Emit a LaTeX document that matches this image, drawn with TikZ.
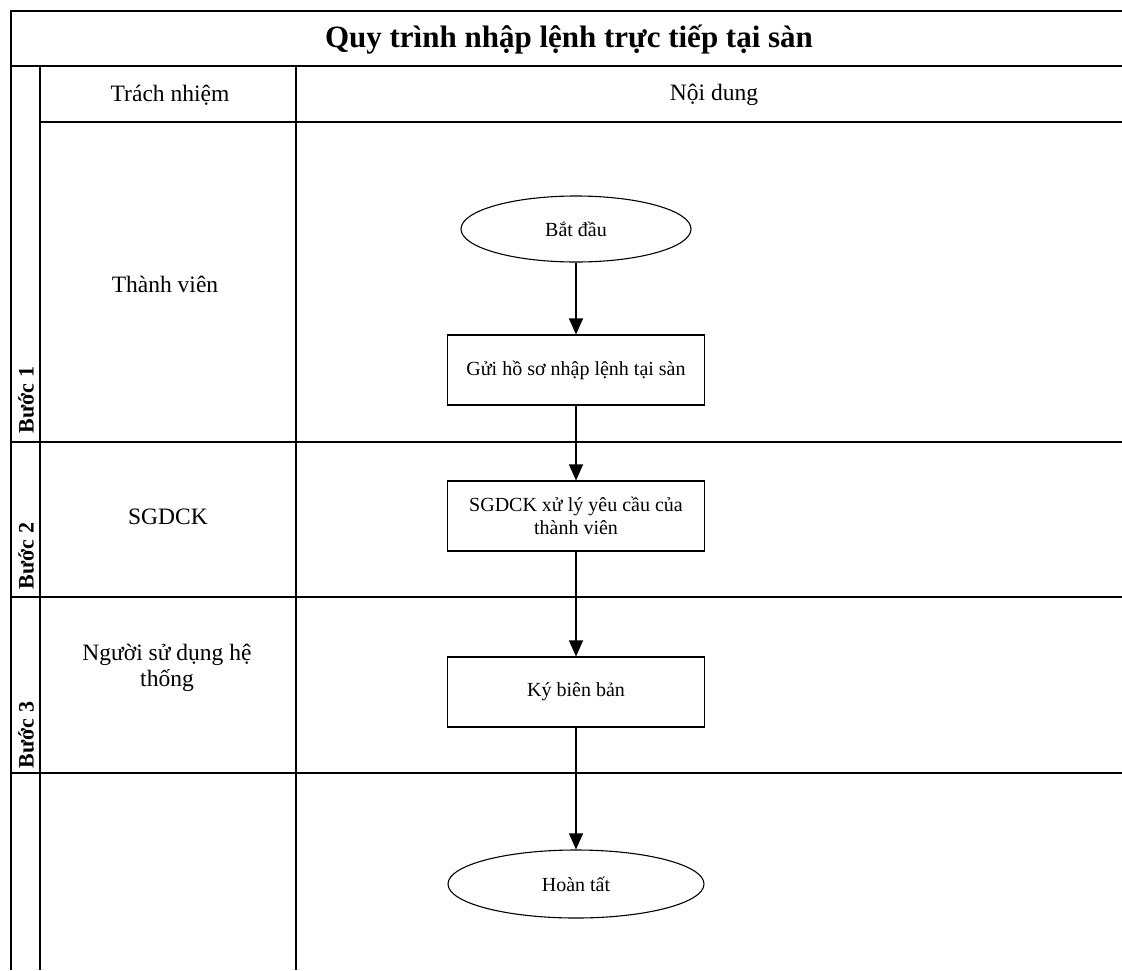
\documentclass[tikz,border=0pt]{standalone}
\usepackage{fontspec}
\setmainfont{Liberation Serif}
\usetikzlibrary{shapes.geometric,arrows.meta}

\begin{document}
\begin{tikzpicture}[x=1pt,y=-1pt,
        grid/.style={line width=1.6pt},
        terminal/.style={draw,ellipse,line width=1.1pt,minimum width=230pt,minimum height=66pt,font=\fontsize{20}{23}\selectfont},
        process/.style={draw,rectangle,line width=1.1pt,minimum width=257pt,minimum height=70pt,align=center,font=\fontsize{20}{23.5}\selectfont},
        lanetext/.style={font=\fontsize{23.5}{26.5}\selectfont,align=center},
        steplabel/.style={rotate=90,font=\bfseries\fontsize{22}{24}\selectfont},
        flow/.style={-{Triangle[width=14pt,length=16pt]},line width=1.2pt}]
        \useasboundingbox (0,0) rectangle (1122,970);
        % table
        \draw[grid] (11,970) -- (11,11) -- (1122,11);
        \draw[grid] (11,66) -- (1122,66);
        \draw[grid] (40,66) -- (40,970);
        \draw[grid] (296,66) -- (296,970);
        \draw[grid] (40,122) -- (1122,122);
        \draw[grid] (11,442) -- (1122,442);
        \draw[grid] (11,597) -- (1122,597);
        \draw[grid] (11,773) -- (1122,773);
        \node[font=\bfseries\fontsize{31}{35}\selectfont] (title) at (569,40) {Quy trình nhập lệnh trực tiếp tại sàn};
        \node[lanetext] (hdrresp) at (170,95) {Trách nhiệm};
        \node[lanetext] (hdrcont) at (714,95) {Nội dung};
        \node[lanetext] (member) at (165,284) {Thành viên};
        \node[lanetext] (exch) at (168,517) {SGDCK};
        \node[lanetext] (user) at (167,668) {Người sử dụng hệ\\thống};
        \node[steplabel] (step1) at (26,400) {Bước 1};
        \node[steplabel] (step2) at (26,556) {Bước 2};
        \node[steplabel] (step3) at (26,735) {Bước 3};
        % flow
        \node[terminal] (start) at (576,229) {Bắt đầu};
        \node[process] (send) at (576,370) {Gửi hồ sơ nhập lệnh tại sàn};
        \node[process] (handle) at (576,516) {SGDCK xử lý yêu cầu của\\thành viên};
        \node[process] (sign) at (576,692) {Ký biên bản};
        \node[terminal,minimum width=256pt,minimum height=68pt] (done) at (576,884) {Hoàn tất};
        \draw[flow] (start) -- (send);
        \draw[flow] (send) -- (handle);
        \draw[flow] (handle) -- (sign);
        \draw[flow] (sign) -- (done);
\end{tikzpicture}
\end{document}
